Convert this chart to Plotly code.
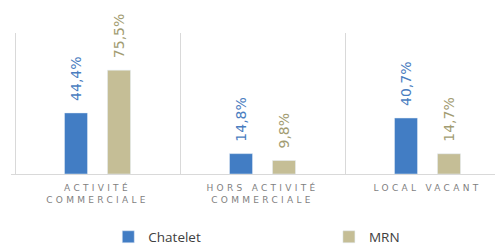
import plotly.graph_objects as go

categories = ["ACTIVITÉ<br>COMMERCIALE", "HORS ACTIVITÉ<br>COMMERCIALE", "LOCAL VACANT"]
chatelet = [44.4, 14.8, 40.7]
mrn = [75.5, 9.8, 14.7]
series_names = ["Chatelet", "MRN"]

BLUE = "#427DC4"
TAN = "#C5BE96"
BLUE_TXT = "#4A7DC0"
TAN_TXT = "#A29C72"

fig = go.Figure()
fig.add_trace(go.Bar(name=series_names[0], x=categories, y=chatelet, marker_color=BLUE,
                     legend="legend"))
fig.add_trace(go.Bar(name=series_names[1], x=categories, y=mrn, marker_color=TAN,
                     legend="legend2"))

annotations = []
for vals, shift, col in [(chatelet, -21.5, BLUE_TXT), (mrn, 21.5, TAN_TXT)]:
    for c, v in zip(categories, vals):
        annotations.append(dict(
            x=c, y=v, xref="x", yref="y", text=f"{v:.1f}%".replace(".", ","),
            showarrow=False, textangle=-90, xanchor="center", yanchor="bottom",
            xshift=shift, yshift=10, font=dict(family="DejaVu Sans", size=14, color=col)))

legend_font = dict(family="Open Sans", size=13.5, color="#404040")
fig.update_layout(
    width=495, height=242,
    margin=dict(l=3, r=0, t=25, b=76),
    paper_bgcolor="white", plot_bgcolor="white",
    barmode="group", bargap=0.479, bargroupgap=0.465,
    showlegend=True,
    legend=dict(orientation="h", xref="container", yref="container",
                x=0.2026, y=0.0537, xanchor="left", yanchor="middle", font=legend_font),
    legend2=dict(orientation="h", xref="container", yref="container",
                 x=0.6483, y=0.0537, xanchor="left", yanchor="middle", font=legend_font),
    annotations=annotations,
)
fig.update_xaxes(range=[-0.5 - 4 / 165, 2.5 - 7 / 165], tickson="boundaries", showgrid=True,
                 gridcolor="#D9D9D9", gridwidth=1, showline=True, linecolor="#D9D9D9",
                 ticks="", ticklabelstandoff=5,
                 tickfont=dict(family="DejaVu Sans", size=9, color="#7F7F7F"))
fig.update_yaxes(range=[0, 102.5], visible=False)

post = ("document.querySelectorAll('.xtick text').forEach(function(t){"
        "t.style.letterSpacing='3.3px';});")
fig.write_html("out.html", post_script=post)
